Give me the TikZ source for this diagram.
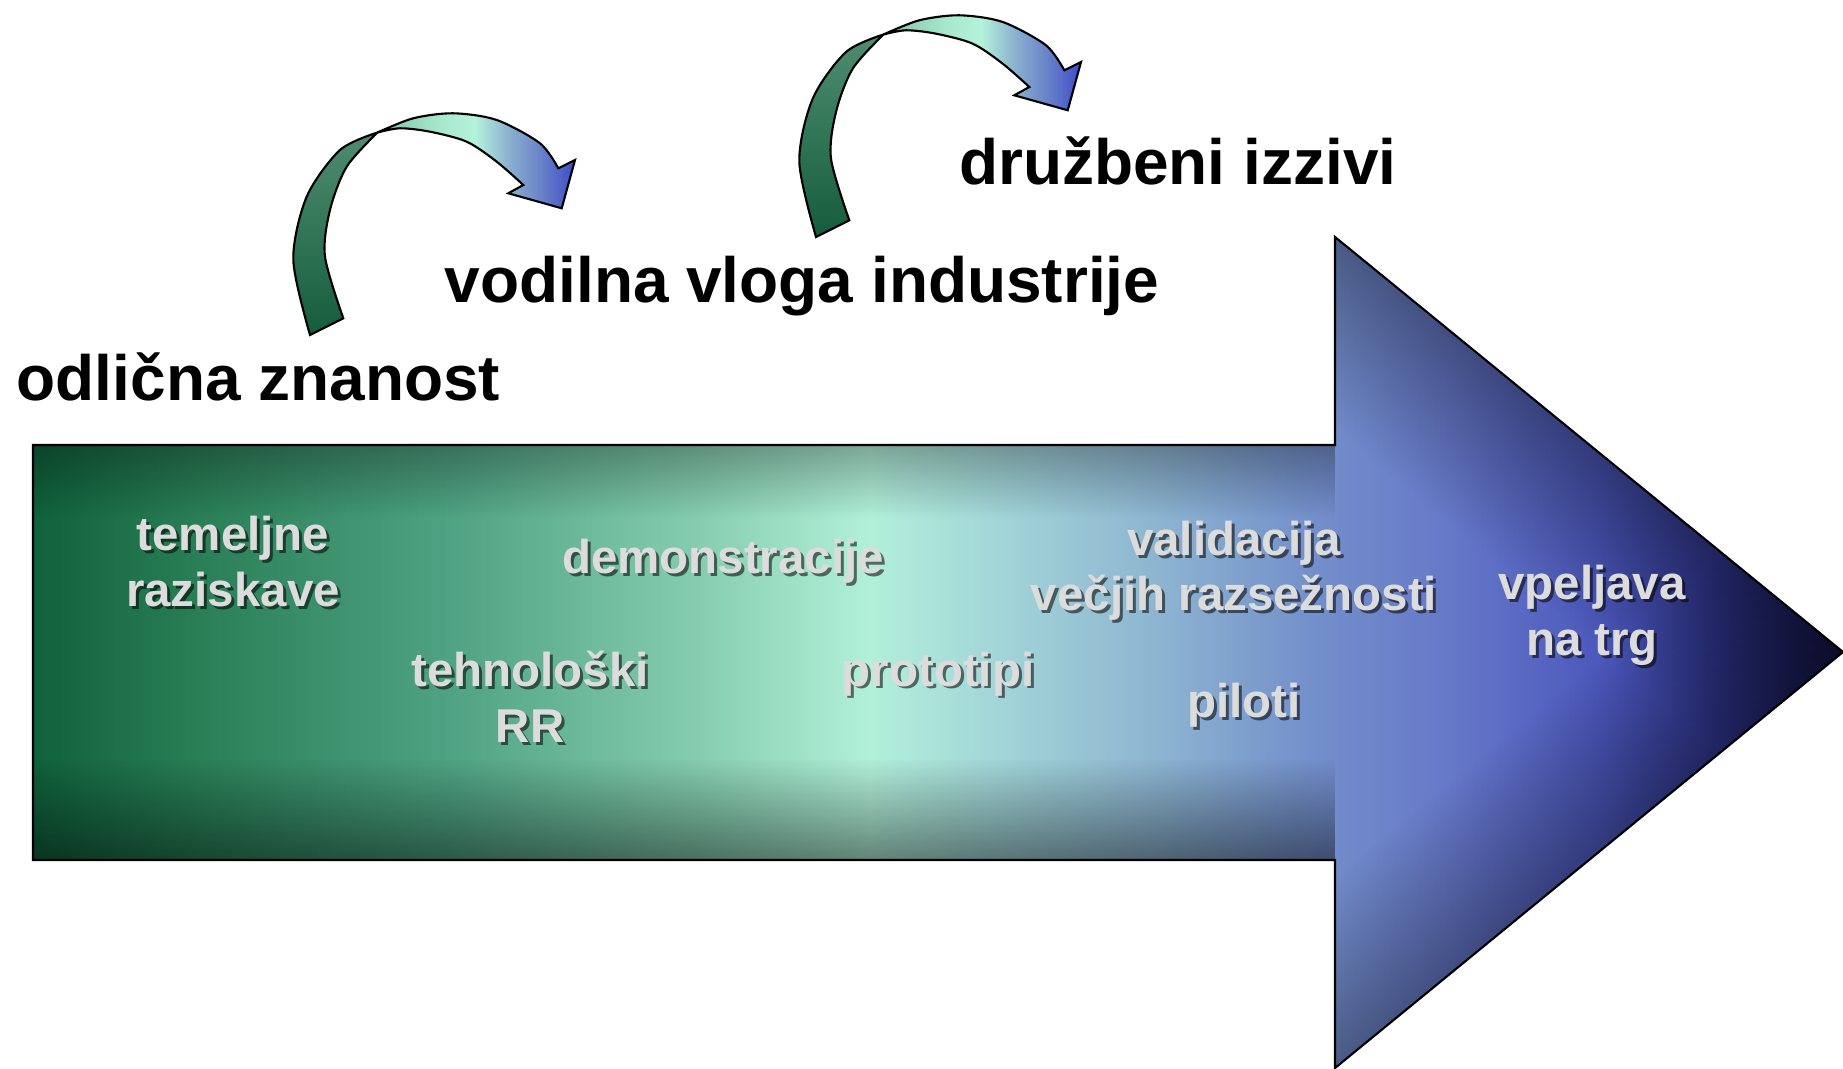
\documentclass[tikz,border=0pt]{standalone}
\usepackage{fontspec}
\setmainfont{Liberation Sans}
\usetikzlibrary{fadings}

\definecolor{flowa}{HTML}{10613C}
\definecolor{flowb}{HTML}{2A7F57}
\definecolor{flowc}{HTML}{4FA283}
\definecolor{flowd}{HTML}{86CDB0}
\definecolor{flowe}{HTML}{B2F0D9}
\definecolor{flowf}{HTML}{A2D5D8}
\definecolor{flowg}{HTML}{8EB6D1}
\definecolor{flowh}{HTML}{7592CB}
\definecolor{flowi}{HTML}{6678C8}
\definecolor{flowj}{HTML}{4C58BC}
\definecolor{flowk}{HTML}{30368F}
\definecolor{flowl}{HTML}{1C1C60}
\definecolor{bendbot}{HTML}{145D3C}
\definecolor{bendtop}{HTML}{4F8C71}
\definecolor{arca}{HTML}{7CC2A3}
\definecolor{arcb}{HTML}{A7E8CD}
\definecolor{arcc}{HTML}{B4F2DB}
\definecolor{arcd}{HTML}{8AAFCF}
\definecolor{arce}{HTML}{6A84C9}
\definecolor{arcf}{HTML}{3D4CC8}
\definecolor{labelgrey}{HTML}{DCDCDC}

\pgfdeclarehorizontalshading{flow}{100bp}{color(0bp)=(flowa); color(25bp)=(flowa);
  color(29.6bp)=(flowb); color(36.5bp)=(flowc); color(43.4bp)=(flowd); color(48.1bp)=(flowe);
  color(51.7bp)=(flowf); color(55.9bp)=(flowg); color(60bp)=(flowh); color(64.1bp)=(flowi);
  color(68.3bp)=(flowj); color(71.6bp)=(flowk); color(75bp)=(flowl); color(100bp)=(flowl)}
\pgfdeclarehorizontalshading{bendarc}{100bp}{color(0bp)=(arca); color(25bp)=(arca);
  color(40.8bp)=(arcb); color(49.7bp)=(arcc); color(58.5bp)=(arcd); color(66.1bp)=(arce);
  color(75bp)=(arcf); color(100bp)=(arcf)}

\tikzfading[name=fadeup, top color=transparent!0, bottom color=transparent!100]
\tikzfading[name=fadedown, top color=transparent!100, bottom color=transparent!0]

\tikzset{
  headline/.style={anchor=base west, font=\bfseries\fontsize{18.2}{21}\selectfont},
  stagetxt/.style={anchor=base, align=center, text=labelgrey,
    font=\bfseries\fontsize{13.5}{15.9}\selectfont},
  stageshade/.style={stagetxt, text=black, text opacity=0.55, xshift=0.03cm, yshift=-0.03cm},
  outline/.style={draw=black, line width=0.6pt},
}

% shadowed label, placed at the baseline of its last line
\newcommand{\stagelabel}[3]{%
  \node[stageshade] (#1-s) at (#2) {#3};
  \node[stagetxt] (#1) at (#2) {#3};}

\begin{document}
\begin{tikzpicture}
	\tikzstyle{every node}+=[inner sep=0pt]
	\useasboundingbox (0,0) rectangle (18.43,10.68);
	% big arrow
	\coordinate (sbl) at (0.33,2.08);
	\coordinate (stl) at (0.33,6.23);
	\coordinate (str) at (13.35,6.23);
	\coordinate (htop) at (13.35,8.31);
	\coordinate (tip) at (18.43,4.16);
	\coordinate (hbot) at (13.35,0);
	\coordinate (sbr) at (13.35,2.08);
	\shade[shading=flow] (sbl) -- (stl) -- (str) -- (htop) -- (tip) -- (hbot) -- (sbr) -- cycle;
	\begin{scope}
		\clip (sbl) -- (stl) -- (str) -- (htop) -- (tip) -- (hbot) -- (sbr) -- cycle;
		\fill[black, opacity=0.3, path fading=fadeup] (0.33,5.5) rectangle (13.35,6.23);
		\fill[black, opacity=0.45, path fading=fadedown] (0.33,2.08) rectangle (13.35,3.1);
		\begin{scope}[transform canvas={shift={(13.35,8.31)}, rotate=-39.25}]
			\fill[black, opacity=0.35, path fading=fadeup] (0,-1.5) rectangle (6.6,0);
		\end{scope}
		\begin{scope}[transform canvas={shift={(13.35,0)}, rotate=39.25}]
			\fill[black, opacity=0.35, path fading=fadedown] (0,0) rectangle (6.6,1.5);
		\end{scope}
	\end{scope}
	\draw[outline] (sbl) -- (stl) -- (str) -- (htop) -- (tip) -- (hbot) -- (sbr) -- cycle;
	% curved arrows
	\foreach \ax/\ay in {3.10/7.33, 8.16/8.31} {
		\begin{scope}[shift={(\ax,\ay)}]
			\shade[top color=bendtop, bottom color=bendbot, outline]
				(0,0) -- plot[smooth] coordinates {(0.333,0.167) (0.15,0.783) (0.20,1.25) (0.367,1.683) (0.675,2.025)}
				-- plot[smooth] coordinates {(0.675,2.025) (0.30,1.85) (-0.033,1.383) (-0.167,0.75) (0,0)} -- cycle;
			\shade[shading=bendarc, outline]
				(0.675,2.025) -- plot[smooth] coordinates {(0.675,2.025) (1.033,2.167) (1.433,2.217) (1.867,2.15) (2.30,1.917) (2.483,1.667)}
				-- (2.65,1.75) -- (2.517,1.267) -- (1.983,1.417) -- (2.133,1.50)
				-- plot[smooth] coordinates {(2.133,1.50) (1.867,1.733) (1.567,1.933) (1.20,2.033) (0.90,2.067) (0.675,2.025)} -- cycle;
		\end{scope}
	}
	% titles
	\node[headline] (science) at (0.16,6.67) {odlična znanost};
	\node[headline] (industry) at (4.44,7.65) {vodilna vloga industrije};
	\node[headline] (society) at (9.585,8.83) {družbeni izzivi};
	% stages
	\stagelabel{basic}{2.33,4.615}{temeljne\\raziskave}
	\stagelabel{demo}{7.23,4.94}{demonstracije}
	\stagelabel{tech}{5.30,3.26}{tehnološki\\RR}
	\stagelabel{proto}{9.38,3.82}{prototipi}
	\stagelabel{valid}{12.34,4.57}{validacija\\večjih razsežnosti}
	\stagelabel{pilot}{12.44,3.51}{piloti}
	\stagelabel{market}{15.92,4.13}{vpeljava\\na trg}
\end{tikzpicture}
\end{document}
